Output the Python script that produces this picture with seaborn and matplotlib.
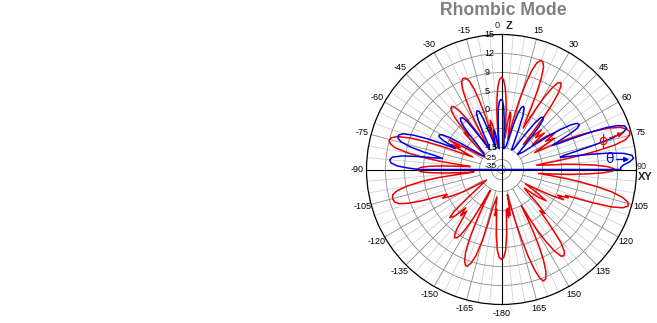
import numpy as np
import matplotlib
matplotlib.use("Agg")
import matplotlib.pyplot as plt
from matplotlib.patches import FancyArrowPatch
import seaborn as sns

sns.set_theme(style="white")
plt.rcParams["font.family"] = ["Liberation Sans", "DejaVu Sans"]

# Radial scale: gain rings (dBi) and their radii on the chart
ring_db = [-35, -25, -15, -5, 0, 5, 9, 12, 15]
ring_px = [4, 10, 22, 41, 60, 78, 97, 116, 135]
ring_labels = ["-35", "-25", "-15", "-5", "0", "5", "9", "12", "15"]

# Angle labels (degrees from zenith, clockwise)
angle_ticks = [15, 30, 45, 60, 75, 105, 120, 135, 150, 165, 180,
               -165, -150, -135, -120, -105, -90, -75, -60, -45, -30, -15]
angle_labels = ["15", "30", "45", "60", "75", "105", "120", "135", "150", "165", "-180",
                "-165", "-150", "-135", "-120", "-105", "-90", "-75", "-60", "-45", "-30", "-15"]

# Phi-polarised gain (theta deg, dBi)
red_pattern = [
    (-180, 7.5), (-178.5, 7.1), (-177, 5.5), (-175.5, 1.5), (-174, -3), (-173, -5.5), (-172, -3.5),
    (-170.5, -12),
    (-167, -6), (-166, -1), (-165, 3.5), (-163.5, 7.5), (-162, 9.2), (-160.5, 9.9), (-159.5, 9.9),
    (-158, 9.2), (-156.5, 7.5), (-155, 3.5), (-154, -1), (-153, -6), (-152, -14),
    (-151, -6), (-150, -1), (-149, 2.5), (-148, 4.8), (-146.8, 5.8), (-145.5, 6), (-144.2, 5.4),
    (-143, 3.8), (-141.5, 0.5), (-140, -1.5), (-138.5, 0.5), (-137, -2), (-135, 1.5), (-133, 3),
    (-131.5, 1), (-130, -4), (-128, -12), (-125, -18),
    (-122, -10), (-120, -4), (-118, -1), (-116, 1.5), (-114.5, 0), (-113, 2.5), (-111.5, 6.5),
    (-110, 9.2), (-108.5, 10.7), (-107, 11.3), (-105, 11.5), (-103, 11.3), (-101.5, 10.5), (-100, 8.8),
    (-98.5, 5.5), (-97.3, 1), (-96.3, -5), (-95.3, -12),
    (-94.5, -6), (-93.5, -0.5), (-92.5, 3.5), (-91.5, 5.6), (-90, 6.4), (-88.5, 5.6), (-87.5, 3.5),
    (-86.5, -0.5), (-85.5, -6), (-84.7, -10),
    (-83.5, -5), (-82.5, 0), (-81.5, 4.5), (-80, 8.5), (-78.5, 10.8), (-77, 11.7), (-75.5, 12),
    (-74, 11.8), (-72.5, 11), (-71, 9), (-69.8, 5.5), (-68.8, 1), (-67.8, -4), (-66.5, -10),
    (-65, -5), (-63.5, -1), (-62, -3.5), (-60.5, 0), (-59, -5), (-57, -12), (-53, -16), (-49, -14),
    (-47, -7), (-45.5, -2), (-44, -3.5), (-43, 0), (-42, 2.5), (-40.8, 4.4), (-39.5, 5.3), (-38.2, 5.5),
    (-37, 5), (-35.8, 3.5), (-34.5, 0.5), (-33.3, -4), (-32, -12),
    (-30, -8), (-29, -2), (-28, 2), (-27, 5), (-25.8, 7.5), (-24.5, 8.8), (-23, 9.3), (-21.5, 9.2),
    (-20, 8.4), (-18.8, 6.5), (-17.8, 3.5), (-16.8, -1), (-16, -6), (-15.2, -11),
    (-14, -4), (-12.8, -2.5), (-11.5, -3.5), (-10.5, -8), (-9, -15),
    (-6.5, -14), (-5.5, -5), (-4.5, 0), (-3.5, 3.5), (-2.5, 6), (-1.3, 7.5), (0, 8), (1.3, 7.5), (2.5, 6),
    (3.5, 3.5), (4.5, 0), (5.5, -5), (6.3, -10),
    (7.3, -3.5), (8.5, -0.5), (9.7, -1.5), (10.8, -6), (11.7, -10),
    (12.5, -6), (13.5, -1), (14.5, 3.5), (15.8, 7.5), (17, 10), (18.3, 11.4), (19.7, 12), (21, 11.9),
    (22.3, 11.2), (23.5, 9.5), (24.6, 6.5), (25.6, 2.5), (26.6, -1.5), (27.6, -3.5),
    (28.6, -1), (29.6, 3), (30.6, 6.3), (31.8, 8.7), (33, 10), (34.3, 10.3), (35.6, 9.8), (36.8, 8.3),
    (38, 5.5), (39, 1.5), (40, -3.5), (41, -9),
    (43, -4), (45, -1), (47, -3.5), (49.5, -1), (51.5, -6), (53.5, -1), (55.5, 1.5), (57.5, -2),
    (59.5, 0.5), (61.5, -4), (63, -7),
    (64, -2), (65, 2.5), (66.2, 6.5), (67.5, 9.5), (69, 12), (70.5, 13.6), (72, 14.4), (73.5, 14.8),
    (75, 14.6), (76.5, 13.8), (77.8, 12), (79, 9), (80, 5), (81, 0), (82, -4.5), (83, -8),
    (84.3, -4), (85.3, 1), (86.3, 5), (87.3, 8.3), (88.5, 10.5), (89.7, 11.5), (90.9, 11.2), (92, 9.5),
    (93, 6.5), (94, 2.5), (95, -2), (96, -7),
    (97, -3), (98, 1.5), (99, 5.5), (100.2, 9), (101.5, 11.5), (103, 13.3), (104.5, 14.3), (106, 14.5),
    (107.5, 13.8), (108.8, 12), (110, 9), (111, 5.5), (112, 2.5), (113, 3.5), (114.5, 0.5), (116, 2.5),
    (117.5, -1), (119, -5), (121, -12),
    (123, -5), (125, -1.5), (127, -3.5), (129, -11),
    (131.5, -8), (133.5, -2.5), (135.5, 0.5), (137, -1), (138.5, 2.5), (139.8, 6), (141, 8.5),
    (142.5, 10), (144, 10.5), (145.5, 10.3), (147, 9), (148.3, 6.5), (149.5, 3), (150.5, -1.5),
    (151.3, -5),
    (152.2, -1), (153, 3), (154, 6.8), (155.2, 9.5), (156.5, 11.3), (158, 12.3), (159.3, 12.5),
    (160.6, 11.9), (161.8, 10.3), (163, 7.5), (164, 3.5), (165, -1.5), (166, -7), (167, -13),
    (168.5, -5), (169.5, -3.5), (170.5, -6), (171.5, -3), (173, -5.5), (174, -3), (175.5, 1.5),
    (177, 5.5), (178.5, 7.1), (180, 7.5),
]

# Theta-polarised gain (theta deg, dBi); -60 marks no radiation below the horizon
blue_pattern = [
    (-90, -60), (-90, 6), (-89, 8.5), (-88, 10.2), (-86.5, 11.2), (-85, 11.4), (-83.5, 11), (-82.2, 9.5),
    (-81.2, 6.5), (-80.3, 2.5), (-79.3, 0), (-78.3, 2), (-77.3, 5.5), (-76, 8.5), (-74.5, 10.2),
    (-73, 10.8), (-71.5, 10.8), (-70, 10.2), (-68.7, 8.5), (-67.5, 5.5), (-66.5, 1.5), (-65.5, -2.5),
    (-64.5, -1), (-63.5, 1.5), (-62.3, 2.9), (-61, 3.1), (-59.7, 2.5), (-58.5, 0.5), (-57.3, -3),
    (-56, -8), (-53, -15),
    (-48, -14), (-44, -8), (-42.5, -3), (-41.3, -0.5), (-40, 1), (-38.5, 1.6), (-37, 1.4), (-35.7, 0),
    (-34.5, -3), (-33, -8), (-30.5, -14),
    (-28, -12), (-26.5, -5), (-25.3, -1.5), (-24, 0.4), (-22.5, 1), (-21, 0.6), (-19.7, -1.5),
    (-18.5, -5), (-17, -10), (-15, -15),
    (-13, -9), (-11.5, -5.5), (-10, -6), (-8.5, -11), (-6.5, -16),
    (-5, -8), (-4, -3), (-3, 0.3), (-1.8, 2.2), (-0.5, 2.8), (0.8, 2.5), (2, 0.8), (3, -2.5), (4.2, -8),
    (6.5, -16),
    (11, -14), (13.5, -8), (15, -3.5), (16.3, -0.5), (17.6, 1.3), (19, 1.9), (20.4, 1.4), (21.7, -0.5),
    (23, -4), (24.5, -9), (27, -15),
    (31, -14), (33, -8), (34.5, -3.5), (35.8, -0.5), (37.1, 1.4), (38.5, 1.9), (39.9, 1.3), (41.2, -0.8),
    (42.5, -4.5), (44, -10), (47, -15),
    (51, -12), (53, -5), (54.5, -0.5), (55.8, 3), (57.1, 5.8), (58.5, 7.2), (60, 7.5), (61.4, 6.8),
    (62.6, 4.5), (63.7, 1), (64.6, -1), (65.5, 0.5),
    (66.3, 4.5), (67.2, 8.5), (68.2, 11.5), (69.3, 13.3), (70.5, 14.3), (71.8, 14.5), (73, 13.8),
    (74.2, 11.8), (75.3, 8.5), (76.3, 4.5), (77.3, 1), (78.3, 0),
    (79.3, 3.5), (80.3, 7.5), (81.3, 10.8), (82.5, 13.2), (83.8, 14.4), (85.2, 14.6), (86.5, 14),
    (87.8, 13), (89, 12.5), (90, 12.5), (90, -60),
]

RED = "#ee0000"
BLUE = "#0000e0"
W, H = 657, 323
CX, CY, R = 501.5, 169.5, 135


def to_radius(db):
    return np.interp(db, [-60] + ring_db, [0] + ring_px)


fig = plt.figure(figsize=(W / 100, H / 100), dpi=100)
ax = fig.add_axes([(CX - R) / W, (H - CY - R) / H, 2 * R / W, 2 * R / H], projection="polar")
ax.set_theta_zero_location("N")
ax.set_theta_direction(-1)
ax.set_xticks([])
ax.set_yticks([])
ax.grid(False)
ax.spines["polar"].set_color("black")
ax.spines["polar"].set_linewidth(0.9)

# grid: fine spokes every 5 deg, stronger every 15 deg, axes every 90 deg
for a in range(0, 360, 5):
    th = np.deg2rad(a)
    if a % 90 == 0:
        ax.plot([th, th], [0, R], color="black", lw=0.8, zorder=2)
    elif a % 15 == 0:
        ax.plot([th, th], [22, R], color="#8a8a8a", lw=0.6, zorder=1)
    else:
        ax.plot([th, th], [41, R], color="#d2d2d2", lw=0.6, zorder=1)
circ = np.linspace(0, 2 * np.pi, 500)
for r in ring_px[:-1]:
    ax.plot(circ, np.full_like(circ, r), color="#8a8a8a", lw=0.6, zorder=1)

red_theta = np.deg2rad([p[0] for p in red_pattern])
red_r = to_radius([p[1] for p in red_pattern])
blue_theta = np.deg2rad([p[0] for p in blue_pattern])
blue_r = to_radius([p[1] for p in blue_pattern])

sns.lineplot(x=red_theta, y=red_r, sort=False, estimator=None, color=RED, lw=1.1, ax=ax, zorder=3)
sns.lineplot(x=blue_theta, y=blue_r, sort=False, estimator=None, color=BLUE, lw=1.1, ax=ax, zorder=4)
ax.set_ylim(0, R)
ax.set_xlabel("")
ax.set_ylabel("")

# ring labels along the zenith axis
ring_label_r = {"-35": 2.5, "-25": 11.5}
for lbl, r in zip(ring_labels, ring_px):
    ax.annotate(lbl, xy=(0, ring_label_r.get(lbl, r)), xytext=(-12.2, 0), textcoords="offset points",
                ha="left", va="center", fontsize=6 if lbl in ring_label_r else 6.5,
                color="black", zorder=6)

# angle labels around the rim
for a, lbl in zip(angle_ticks, angle_labels):
    ax.text(np.deg2rad(a), 144, lbl, ha="center", va="center", fontsize=6.5, color="black")


def px(x, y):
    return x / W, 1 - y / H


fig.text(*px(497, 26), "0", ha="center", va="center", fontsize=6.5)
fig.text(*px(509.5, 26), "Z", ha="center", va="center", fontsize=8, fontweight="bold")
fig.text(*px(642, 166), "90", ha="center", va="center", fontsize=6.5)
fig.text(*px(645, 177), "XY", ha="center", va="center", fontsize=8, fontweight="bold")

fig.text(*px(503, 15), "Rhombic Mode", ha="center", va="baseline", fontsize=12.7,
         fontweight="bold", color="#808080")

# polarisation markers
fig.text(*px(603, 141), "ϕ", ha="center", va="center", fontsize=10, color=RED, family="DejaVu Sans")
fig.text(*px(609, 159), "θ", ha="center", va="center", fontsize=10, color=BLUE, family="DejaVu Sans")
fig.add_artist(FancyArrowPatch(px(607, 139), px(626, 132), transform=fig.transFigure,
                               arrowstyle="-|>", mutation_scale=7, color=RED, lw=1.0))
fig.add_artist(FancyArrowPatch(px(614, 159.5), px(632, 159.5), transform=fig.transFigure,
                               arrowstyle="-|>", mutation_scale=7, color=BLUE, lw=1.0))

fig.savefig("out.png", dpi=100)
